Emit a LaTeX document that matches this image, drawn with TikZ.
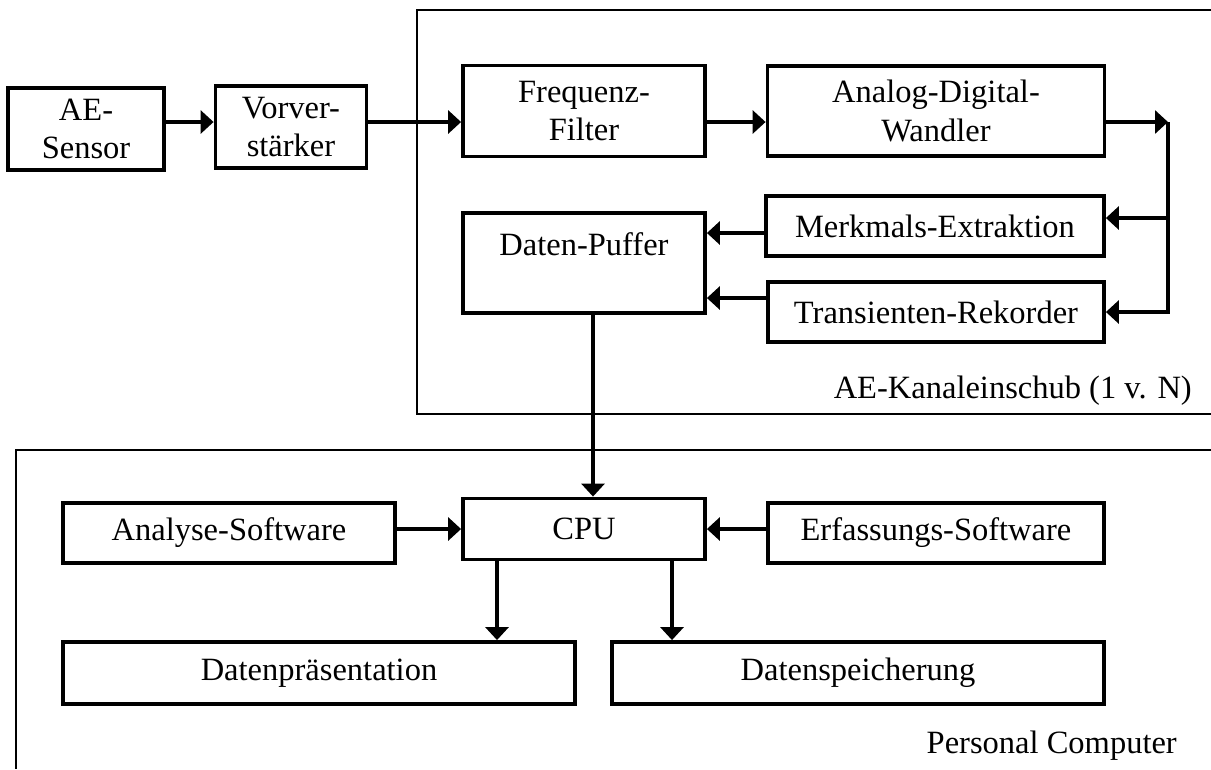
\documentclass[tikz,border=0pt]{standalone}
\usepackage{fontspec}
\setmainfont{Liberation Serif}
\usetikzlibrary{arrows.meta}

\begin{document}
\begin{tikzpicture}[x=0.02cm,y=-0.02cm,
        blk/.style={draw,line width=2.2pt,align=center,inner sep=2pt},
        conn/.style={line width=1.8pt,-{Triangle[length=0.26cm,width=0.46cm]}},
        frame/.style={line width=1.2pt},
        every node/.style={font=\fontsize{18.5}{22}\selectfont}]
        \useasboundingbox (0,0) rectangle (1211,769);
        % Rahmen: Kanaleinschub und PC
        \draw[frame] (1211,10) -- (417,10) -- (417,414) -- (1211,414);
        \draw[frame] (1211,450) -- (16,450) -- (16,769);
        \node[anchor=base east] (kanal) at (1198,398) {AE-Kanaleinschub (1 v. N)};
        \node[anchor=base east] (pc) at (1183,753) {Personal Computer};
        % Bloecke
        \node[blk,minimum width=3.12cm,minimum height=1.64cm] (sensor) at (86,129) {AE-\\Sensor};
        \node[blk,minimum width=3.02cm,minimum height=1.64cm] (vorv) at (291,127) {Vorver-\\stärker};
        \node[blk,minimum width=4.84cm,minimum height=1.82cm] (filter) at (584,111) {Frequenz-\\Filter};
        \node[blk,minimum width=6.74cm,minimum height=1.8cm] (adw) at (936,111) {Analog-Digital-\\Wandler};
        \node[blk,minimum width=6.76cm,minimum height=1.2cm] (merk) at (935,226) {Merkmals-Extraktion};
        \node[blk,minimum width=6.72cm,minimum height=1.2cm] (trans) at (936,312) {Transienten-Rekorder};
        \node[blk,minimum width=4.84cm,minimum height=2cm,inner ysep=0pt,text height=0.85cm,text depth=1.15cm] (puffer) at (584,263) {Daten-Puffer};
        \node[blk,minimum width=4.84cm,minimum height=1.22cm] (cpu) at (584,529) {CPU};
        \node[blk,minimum width=6.64cm,minimum height=1.2cm] (analyse) at (229,533) {Analyse-Software};
        \node[blk,minimum width=6.72cm,minimum height=1.2cm] (erfass) at (936,533) {Erfassungs-Software};
        \node[blk,minimum width=10.24cm,minimum height=1.24cm] (praes) at (319,673) {Datenpräsentation};
        \node[blk,minimum width=9.84cm,minimum height=1.24cm] (speich) at (858,673) {Datenspeicherung};
        % Hilfspunkte
        \coordinate (rowA) at (0,122);
        \coordinate (jtop) at (1168,122);
        \coordinate (jmid) at (1168,218);
        \coordinate (jbot) at (1168,312);
        \coordinate (bus) at (593,0);
        \coordinate (dl) at (497,0);
        \coordinate (dr) at (672,0);
        \path (merk.west) ++(0,7) coordinate (mout);
        \path (trans.west) ++(0,-14) coordinate (tout);
        % Verbindungen
        \draw[conn] (sensor.east |- rowA) -- (vorv.west |- rowA);
        \draw[conn] (vorv.east |- rowA) -- (filter.west |- rowA);
        \draw[conn] (filter.east |- rowA) -- (adw.west |- rowA);
        \draw[conn] (adw.east |- rowA) -- (jtop);
        \draw[conn] (jtop) -- (jbot) -- (trans.east |- jbot);
        \draw[conn] (jmid) -- (merk.east |- jmid);
        \draw[conn] (mout) -- (mout -| puffer.east);
        \draw[conn] (tout) -- (tout -| puffer.east);
        \draw[conn] (puffer.south -| bus) -- (cpu.north -| bus);
        \draw[conn] (analyse.east |- cpu.west) -- (cpu.west);
        \draw[conn] (erfass.west |- cpu.east) -- (cpu.east);
        \draw[conn] (cpu.south -| dl) -- (praes.north -| dl);
        \draw[conn] (cpu.south -| dr) -- (speich.north -| dr);
\end{tikzpicture}
\end{document}
